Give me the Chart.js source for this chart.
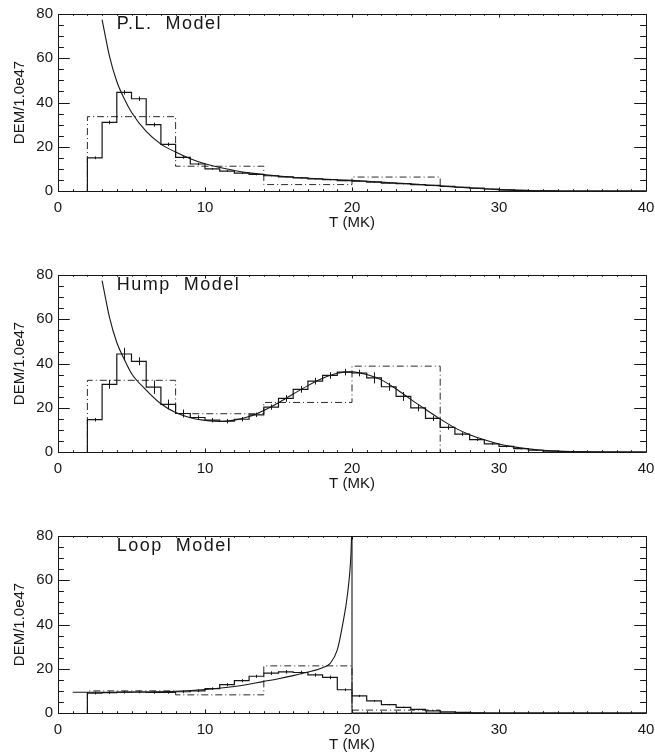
<!DOCTYPE html>
<html>
<head>
<meta charset="utf-8">
<script src="https://cdn.jsdelivr.net/npm/chart.js@4.4.1/dist/chart.umd.min.js"></script>
<style>
    html, body { margin: 0; padding: 0; background: #fff; overflow: hidden; }
    body { width: 655px; height: 752px; position: relative; }
    canvas { position: absolute; left: 0; }
</style>
</head>
<body>
<canvas id="plChart" width="655" height="261" style="top:0px"></canvas>
<canvas id="humpChart" width="655" height="261" style="top:261px"></canvas>
<canvas id="loopChart" width="655" height="261" style="top:522px"></canvas>
<script>
const FONT = '"Liberation Sans", Arial, sans-serif';
const INK = '#161616';

// bin edges in MK: fine bins are 1 MK wide from 2 to 40, coarse bins 6 MK wide
const fineLo = Array.from({ length: 38 }, (_, i) => 2 + i);
const coarseEdges = [2, 8, 14, 20, 26];

// P.L. model
const plCurveT   = [3, 3.5, 4, 4.5, 5, 6, 7, 8, 9, 10, 11, 12, 13, 14, 16, 18, 20, 22, 24, 26, 28, 30, 32, 34, 36, 40];
const plCurveDem = [77.5, 61, 49.5, 41.8, 35.6, 26.9, 21.2, 17.6, 14.6, 12.3, 10.6, 9.3, 8.2, 7.4, 6.2, 5.4, 4.8, 4.0, 3.2, 2.3, 1.4, 0.6, 0.15, 0.03, 0, 0];
const plFine = [15, 31, 44.6, 41.7, 30, 21.1, 15.2, 12.2, 10, 9, 8.1, 7.5, 6.9, 6.4, 5.9, 5.5, 5.1, 4.7, 4.4, 4.0,
                3.6, 3.3, 2.9, 2.5, 2.1, 1.7, 1.3, 0.9, 0.5, 0.3, 0.1, 0.05, 0, 0, 0, 0, 0, 0];
const plErr  = [0.6, 0.8, 1.0, 1.0, 0.9, 0.8, 0.6, 0.5, 0.4, 0.4, 0.4, 0.4, 0.3, 0.3, 0.3, 0.3, 0.3, 0.3, 0.3, 0.3,
                0.3, 0.3, 0.3, 0.3, 0.2, 0.2, 0.2, 0.2, 0, 0, 0, 0, 0, 0, 0, 0, 0, 0];
const plCoarse = [33.6, 11.2, 2.9, 6.3];

// Hump model
const humpCurveT   = [3, 3.5, 4, 4.5, 5, 6, 7, 8, 9, 10, 11, 12, 13, 14, 15, 16, 17, 18, 19, 20, 21, 22, 23, 24, 25, 26, 27, 28, 29, 30, 31, 32, 33, 34, 36, 40];
const humpCurveDem = [77.5, 61, 49.5, 42, 35.5, 28, 21.8, 17.8, 15.5, 14.3, 13.8, 14.4, 16.0, 18.8, 22.3, 26.2, 30, 33.3, 35.6, 36.2,
                      35, 32.6, 28.5, 23.8, 19.3, 14.9, 10.9, 7.8, 5.5, 3.6, 2.3, 1.4, 0.8, 0.4, 0.1, 0];
const humpFine = [14.6, 30.6, 44.3, 41.0, 29.3, 21.5, 17.4, 15.6, 14.4, 13.9, 14.8, 16.8, 20.3, 24.2, 28.3, 32.0, 34.6, 36.1, 35.7, 33.5,
                  29.5, 25.1, 19.9, 15.2, 11.1, 8.1, 5.6, 3.7, 2.5, 1.5, 0.8, 0.4, 0.2, 0.1, 0, 0, 0, 0];
const humpErr  = [0.8, 2.0, 2.8, 1.8, 3.0, 2.2, 1.8, 1.0, 1.0, 1.0, 1.0, 1.0, 1.2, 1.5, 1.5, 1.5, 1.5, 1.5, 1.5, 2.5,
                  1.8, 2.0, 1.5, 1.2, 1.0, 0.8, 0.6, 0.5, 0.4, 0.3, 0.2, 0.1, 0, 0, 0, 0, 0, 0];
const humpCoarse = [32.4, 17.3, 22.4, 38.8];

// Loop model
const loopCurveT   = [1, 2, 4, 6, 8, 10, 12, 14, 15, 16, 17, 18, 18.5, 19, 19.35, 19.7, 19.93, 20];
const loopCurveDem = [9.4, 9.4, 9.4, 9.5, 9.8, 10.6, 12.0, 14.3, 15.5, 16.9, 18.5, 20.5, 22.3, 28.5, 39.5, 54, 72, 86];
const loopTailT    = [20, 20, 40];
const loopTailDem  = [86, 0, 0];
const loopFine = [9.0, 9.2, 9.4, 9.5, 9.3, 9.3, 9.6, 10.0, 11.0, 12.8, 14.6, 16.6, 18.0, 18.6, 18.3, 17.2, 16.1, 10.5, 7.7, 5.5,
                  3.8, 2.5, 1.6, 1.0, 0.5, 0.3, 0.1, 0, 0, 0, 0, 0, 0, 0, 0, 0, 0, 0];
const loopErr  = [0.6, 0.6, 0.6, 0.6, 0.6, 0.6, 0.6, 0.6, 0.6, 0.7, 0.7, 0.7, 0.8, 0.8, 0.8, 0.8, 0.8, 0.6, 0.5, 0.4,
                  0.3, 0.3, 0.2, 0.2, 0, 0, 0, 0, 0, 0, 0, 0, 0, 0, 0, 0, 0, 0];
const loopCoarse = [10.0, 8.2, 21.3, 1.3];

// helpers to turn arrays into {x, y} points
function zipPoints(ts, vs) {
    return ts.map((t, i) => ({ x: t, y: vs[i] }));
}

function finePoints(vals) {
    const pts = [{ x: fineLo[0], y: 0 }];
    fineLo.forEach((t, i) => pts.push({ x: t, y: vals[i] }));
    pts.push({ x: fineLo[fineLo.length - 1] + 1, y: 0 });
    return pts;
}

function coarsePoints(vals) {
    const pts = [{ x: coarseEdges[0], y: 0 }];
    vals.forEach((v, i) => pts.push({ x: coarseEdges[i], y: v }));
    pts.push({ x: coarseEdges[coarseEdges.length - 1], y: 0 });
    return pts;
}

// box with inward ticks on all four sides (IDL style)
const framePlugin = {
    id: 'frame',
    afterDraw(chart) {
        const { ctx, chartArea: a, scales: { x, y } } = chart;
        const xLen = 0.02 * (a.bottom - a.top);
        const yLen = 0.02 * (a.right - a.left);
        ctx.save();
        ctx.strokeStyle = INK;
        ctx.lineWidth = 1;
        ctx.beginPath();
        ctx.rect(Math.round(a.left) + 0.5, Math.round(a.top) + 0.5,
                 Math.round(a.right - a.left), Math.round(a.bottom - a.top));
        for (let v = x.min; v <= x.max; v += 1) {
            const px = Math.round(x.getPixelForValue(v)) + 0.5;
            const len = v % 10 === 0 ? xLen : xLen / 2;
            ctx.moveTo(px, a.bottom); ctx.lineTo(px, a.bottom - len);
            ctx.moveTo(px, a.top); ctx.lineTo(px, a.top + len);
        }
        for (let v = y.min; v <= y.max; v += 5) {
            const py = Math.round(y.getPixelForValue(v)) + 0.5;
            const len = v % 20 === 0 ? yLen : yLen / 2;
            ctx.moveTo(a.left, py); ctx.lineTo(a.left + len, py);
            ctx.moveTo(a.right, py); ctx.lineTo(a.right - len, py);
        }
        ctx.stroke();
        ctx.restore();
    }
};

// vertical error bars at the centre of each fine bin
const errPlugin = {
    id: 'errbars',
    afterDatasetsDraw(chart, args, opts) {
        const { ctx, scales: { x, y } } = chart;
        ctx.save();
        ctx.strokeStyle = INK;
        ctx.lineWidth = 1;
        ctx.beginPath();
        fineLo.forEach((t, i) => {
            const e = opts.err[i];
            if (!e) return;
            const px = Math.round(x.getPixelForValue(t + 0.5)) + 0.5;
            ctx.moveTo(px, y.getPixelForValue(opts.val[i] - e));
            ctx.lineTo(px, y.getPixelForValue(opts.val[i] + e));
        });
        ctx.stroke();
        ctx.restore();
    }
};

// model name written inside the plot
const namePlugin = {
    id: 'modelName',
    afterDatasetsDraw(chart, args, opts) {
        const { ctx, scales: { x, y } } = chart;
        ctx.save();
        ctx.fillStyle = INK;
        ctx.font = '18px ' + FONT;
        ctx.letterSpacing = '1.5px';
        ctx.textBaseline = 'middle';
        ctx.fillText(opts.text, x.getPixelForValue(4), y.getPixelForValue(75.5));
        ctx.restore();
    }
};

function makePanel(id, name, curveSets, fine, err, coarse) {
    const datasets = curveSets.map(pts => ({
        data: pts,
        borderColor: INK,
        borderWidth: 1.1,
        pointRadius: 0,
        cubicInterpolationMode: 'monotone',
        fill: false
    }));
    datasets.push({
        data: finePoints(fine),
        borderColor: INK,
        borderWidth: 1.2,
        pointRadius: 0,
        stepped: true,
        fill: false
    });
    datasets.push({
        data: coarsePoints(coarse),
        borderColor: '#2a2a2a',
        borderWidth: 1,
        borderDash: [7, 3, 1, 3],
        pointRadius: 0,
        stepped: true,
        fill: false
    });

    const tickFont = { family: FONT, size: 15 };
    new Chart(document.getElementById(id), {
        type: 'line',
        data: { datasets: datasets },
        options: {
            responsive: false,
            animation: false,
            layout: { padding: { top: 10, right: 9, left: 0, bottom: 0 } },
            plugins: {
                legend: { display: false },
                tooltip: { enabled: false },
                errbars: { val: fine, err: err },
                modelName: { text: name }
            },
            scales: {
                x: {
                    type: 'linear',
                    min: 0,
                    max: 40,
                    ticks: { stepSize: 10, color: INK, font: tickFont, padding: 8, maxRotation: 0 },
                    grid: { display: false, drawTicks: false },
                    border: { display: false },
                    title: { display: true, text: 'T (MK)', color: INK, font: tickFont, padding: { top: 0, bottom: 29 } },
                    afterFit: s => { s.height = 70; s.paddingLeft = 0; s.paddingRight = 0; }
                },
                y: {
                    type: 'linear',
                    min: 0,
                    max: 80,
                    ticks: { stepSize: 20, color: INK, font: tickFont, padding: 5 },
                    grid: { display: false, drawTicks: false },
                    border: { display: false },
                    title: { display: true, text: 'DEM/1.0e47', color: INK, font: tickFont, padding: { top: 11, bottom: 0 } },
                    afterFit: s => { s.width = 58; }
                }
            }
        },
        plugins: [framePlugin, errPlugin, namePlugin]
    });
}

makePanel('plChart', 'P.L.  Model', [zipPoints(plCurveT, plCurveDem)], plFine, plErr, plCoarse);
makePanel('humpChart', 'Hump  Model', [zipPoints(humpCurveT, humpCurveDem)], humpFine, humpErr, humpCoarse);
makePanel('loopChart', 'Loop  Model',
          [zipPoints(loopCurveT, loopCurveDem), zipPoints(loopTailT, loopTailDem)],
          loopFine, loopErr, loopCoarse);
</script>
</body>
</html>
